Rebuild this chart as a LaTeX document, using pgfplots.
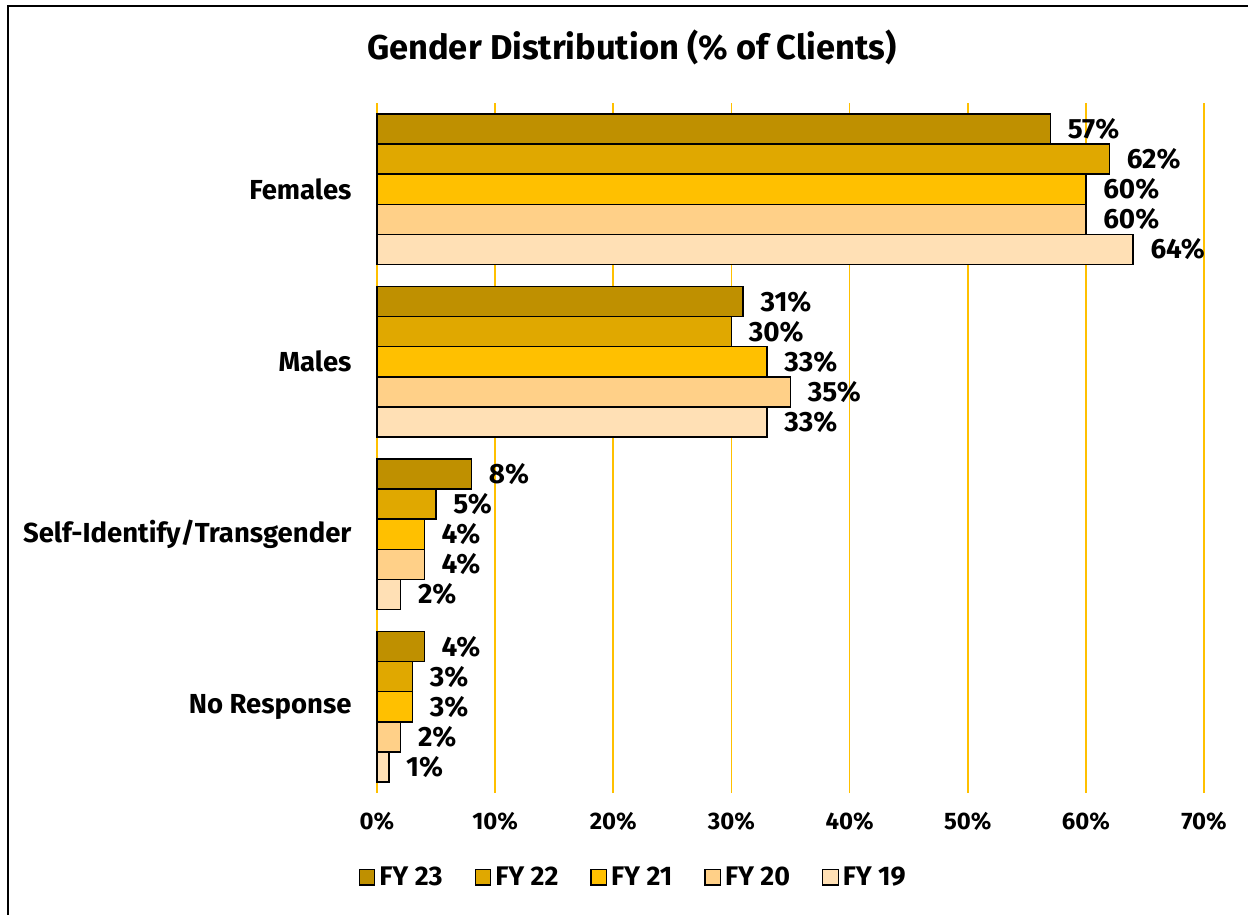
\documentclass[border=0pt]{standalone}
\usepackage{pgfplots}
\pgfplotsset{compat=1.18}
\usepackage{fontspec}
\setmainfont{Fira Sans}
\definecolor{fy23}{HTML}{BF9000}
\definecolor{fy22}{HTML}{E0A800}
\definecolor{fy21}{HTML}{FFC000}
\definecolor{fy20}{HTML}{FFD088}
\definecolor{fy19}{HTML}{FFE0B5}
\definecolor{gridc}{HTML}{FFC000}
\begin{document}
\begin{tikzpicture}
\useasboundingbox (-188.5bp,-61bp) rectangle (435.5bp,396.5bp);
\draw[line width=1bp] (-184.5bp,-80bp) rectangle (460bp,393.5bp);
\begin{axis}[
  at={(0,0)}, anchor=south west,
  scale only axis, width=413.5bp, height=345bp,
  xmin=0, xmax=70, ymin=-0.5, ymax=3.5,
  xbar, bar width=0.1744,
  legend image code/.code={\draw[#1,line width=0.6bp] (0bp,-3.9bp) rectangle (7.8bp,3.9bp);},
  xtick={0,10,...,70},
  ytick={0,1,2,3},
  yticklabels={No Response,Self-Identify/Transgender,Males,Females},
  /pgf/number format/assume math mode=true,
  xticklabel={\pgfmathprintnumber{\tick}\%},
  xticklabel style={font=\bfseries\fontsize{12}{12}\selectfont, yshift=-6bp},
  yticklabel style={font=\bfseries\fontsize{13.8}{14}\selectfont, xshift=-5bp},
  xmajorgrids=true, ymajorgrids=false,
  every axis grid/.style={draw=gridc, line width=0.8bp},
  every major grid/.style={draw=gridc, line width=0.8bp},
  axis line style={draw=none}, tick style={draw=none},
  nodes near coords={\pgfmathprintnumber{\pgfplotspointmeta}\%},
  nodes near coords style={font=\bfseries\fontsize{14}{14}\selectfont, anchor=west, xshift=5bp},
  every axis plot/.append style={draw=black, line width=0.75bp},
  legend columns=5,
  legend style={draw=none, at={(0.311,-0.122)}, anchor=center,
    font=\bfseries\fontsize{13.5}{14}\selectfont,
    /tikz/every even column/.append style={column sep=14bp},
    inner sep=0pt},
  clip=false,
]
\addplot[fill=fy23, bar shift=0.3488] coordinates {(57,3) (31,2) (8,1) (4,0)};
\addplot[fill=fy22, bar shift=0.1744] coordinates {(62,3) (30,2) (5,1) (3,0)};
\addplot[fill=fy21, bar shift=0] coordinates {(60,3) (33,2) (4,1) (3,0)};
\addplot[fill=fy20, bar shift=-0.1744] coordinates {(60,3) (35,2) (4,1) (2,0)};
\addplot[fill=fy19, bar shift=-0.3488] coordinates {(64,3) (33,2) (2,1) (1,0)};
\legend{FY 23,FY 22,FY 21,FY 20,FY 19}
\node[font=\bfseries\fontsize{17.3}{20}\selectfont] at (rel axis cs:0.308,1.08) {Gender Distribution (\% of Clients)};
\end{axis}
\end{tikzpicture}
\end{document}
